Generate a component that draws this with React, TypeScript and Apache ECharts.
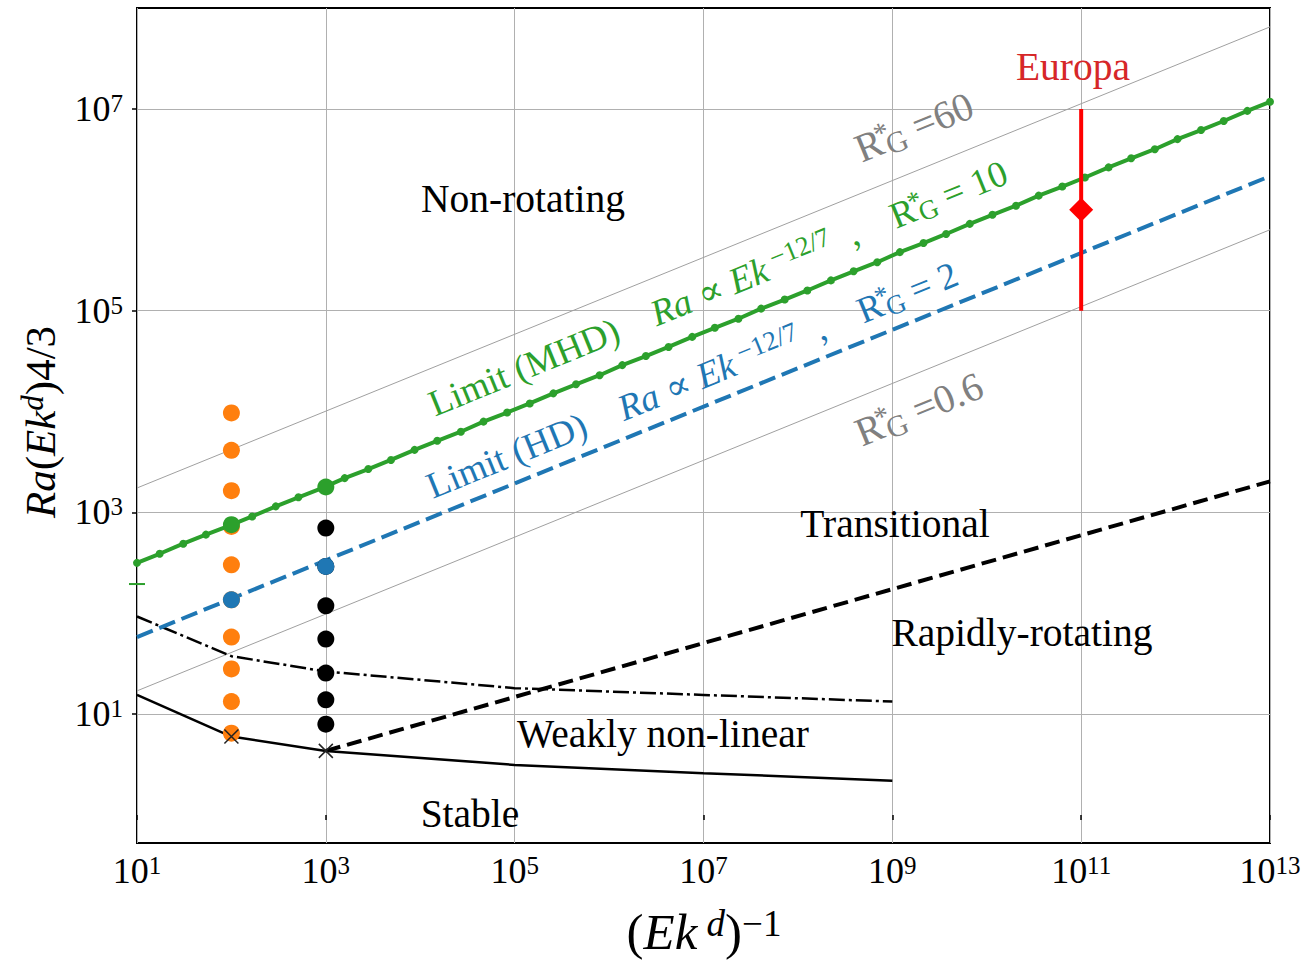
import React, { useEffect, useRef } from "react";
import * as echarts from "echarts";

const FONT = '"Liberation Serif", "DejaVu Serif", "Times New Roman", serif';

// All numbers below are log10 of the plotted quantities
// x: log10((Ek^d)^-1), y: log10(Ra (Ek^d)^(4/3))
const X_TICK_EXP = [1, 3, 5, 7, 9, 11, 13];
const Y_TICK_EXP = [1, 3, 5, 7];
const X_RANGE = [1, 13];
const Y_RANGE = [-0.277, 8.0];

// Limit (MHD), R_G* = 10 (line with small markers)
const MHD_X = [1.0, 1.24, 1.49, 1.73, 1.98, 2.22, 2.47, 2.71, 2.96, 3.2, 3.45, 3.69, 3.94, 4.18, 4.43, 4.67, 4.92, 5.16, 5.41, 5.65, 5.9, 6.14, 6.39, 6.63, 6.88, 7.12, 7.37, 7.61, 7.86, 8.1, 8.35, 8.59, 8.84, 9.08, 9.33, 9.57, 9.82, 10.06, 10.31, 10.55, 10.8, 11.04, 11.29, 11.53, 11.78, 12.02, 12.27, 12.51, 12.76, 13.0];
const MHD_Y = [2.5, 2.59, 2.69, 2.78, 2.87, 2.96, 3.06, 3.15, 3.24, 3.34, 3.43, 3.52, 3.62, 3.71, 3.8, 3.9, 3.99, 4.08, 4.18, 4.27, 4.36, 4.46, 4.55, 4.64, 4.74, 4.83, 4.92, 5.02, 5.11, 5.2, 5.3, 5.39, 5.48, 5.58, 5.67, 5.76, 5.86, 5.95, 6.04, 6.14, 6.23, 6.32, 6.42, 6.51, 6.6, 6.7, 6.79, 6.88, 6.98, 7.07];

// Limit (HD), R_G* = 2
const HD_X = [1, 13];
const HD_Y = [1.764, 6.333];

// Thin gray R_G* lines
const RG60_X = [1, 13];
const RG60_Y = [3.242, 7.813];
const RG06_X = [1, 13];
const RG06_Y = [1.231, 5.802];

// Stability boundary (solid black)
const STABLE_X = [1, 2, 3, 5, 7, 9];
const STABLE_Y = [1.191, 0.778, 0.636, 0.497, 0.415, 0.341];

// Weakly non-linear boundary (dash-dot)
const WNL_X = [1, 2, 3, 5, 7, 9];
const WNL_Y = [1.968, 1.575, 1.423, 1.258, 1.191, 1.125];

// Transitional / rapidly-rotating boundary (dashed black)
const RAPID_X = [3, 13];
const RAPID_Y = [0.636, 3.308];

// Simulations
const ORANGE_X = [2, 2, 2, 2, 2, 2, 2, 2, 2, 2];
const ORANGE_Y = [3.986, 3.615, 3.215, 2.861, 2.481, 2.134, 1.764, 1.449, 1.125, 0.812];
const BLACK_X = [3, 3, 3, 3, 3, 3, 3];
const BLACK_Y = [2.845, 2.464, 2.074, 1.744, 1.407, 1.142, 0.901];
const GREEN_PTS_X = [2, 3];
const GREEN_PTS_Y = [2.878, 3.252];
const BLUE_PTS_X = [2, 3];
const BLUE_PTS_Y = [2.134, 2.464];
const ONSET_X = [2, 3];
const ONSET_Y = [0.778, 0.636];
const EDGE_X = [1];
const EDGE_Y = [2.29];

// Europa
const EUROPA_X = [11, 11];
const EUROPA_RANGE_Y = [5.0, 7.0];
const EUROPA_PT_X = [11];
const EUROPA_PT_Y = [6.0];

const zip = (xs: number[], ys: number[]) => xs.map((x, i) => [x, ys[i]]);

const GREEN = "#2ca02c";
const BLUE = "#1f77b4";
const ORANGE = "#ff7f0e";
const GRAYT = "#808080";

const ANG = (22.13 * Math.PI) / 180;

function mathRich(color: string, fs: number) {
  const supFs = Math.round(fs * 0.72);
  return {
    n: { fontSize: fs, fontFamily: FONT, lineHeight: fs + 4, fill: color, color },
    i: { fontSize: fs, fontFamily: FONT, fontStyle: "italic", lineHeight: fs + 4, fill: color, color },
    sup: { fontSize: supFs, fontFamily: FONT, lineHeight: Math.round(fs * 0.5), verticalAlign: "top", fill: color, color },
    supi: { fontSize: supFs, fontFamily: FONT, fontStyle: "italic", lineHeight: Math.round(fs * 0.5), verticalAlign: "top", fill: color, color },
    st: { fontSize: supFs, fontFamily: FONT, lineHeight: Math.round(fs * 0.45), verticalAlign: "top", width: 0.01, padding: [0, 0, 0, 3], fill: color, color },
    sb: { fontSize: Math.round(fs * 0.74), fontFamily: FONT, lineHeight: Math.round(fs * 0.5), verticalAlign: "bottom", fill: color, color },
  };
}

function rotText(x: number, y: number, text: string, color: string, fs: number, rot: number) {
  return {
    type: "text",
    x,
    y,
    rotation: rot,
    silent: true,
    z: 100,
    style: {
      text,
      rich: mathRich(color, fs),
      fill: color,
      fontSize: fs,
      fontFamily: FONT,
      align: "center",
      verticalAlign: "middle",
      textAlign: "center",
      textVerticalAlign: "middle",
    },
  };
}

function plainText(x: number, y: number, text: string, color: string, fs: number) {
  return {
    type: "text",
    x,
    y,
    silent: true,
    z: 100,
    style: {
      text,
      fill: color,
      fontSize: fs,
      fontFamily: FONT,
      align: "center",
      verticalAlign: "middle",
      textAlign: "center",
      textVerticalAlign: "middle",
    },
  };
}

const tickRich = {
  b: { fontSize: 36, fontFamily: FONT, lineHeight: 36, color: "#000" },
  s: { fontSize: 25, fontFamily: FONT, lineHeight: 17, verticalAlign: "top", color: "#000" },
};

export default function App() {
  const ref = useRef<HTMLDivElement>(null);
  useEffect(() => {
    if (!ref.current) return;
    const chart = echarts.init(ref.current, null, { renderer: "svg" });
    const lineBase = { type: "line", symbol: "none", silent: true, animation: false };
    const dot = (xs: number[], ys: number[], color: string, z: number) => ({
      type: "scatter",
      z,
      silent: true,
      data: zip(xs, ys),
      symbol: "circle",
      symbolSize: 17,
      itemStyle: { color, opacity: 1 },
    });
    const option: any = {
      animation: false,
      backgroundColor: "#fff",
      grid: {
        left: 137,
        top: 8,
        width: 1133,
        height: 835,
        containLabel: false,
        outerBoundsMode: "none",
        show: true,
        borderColor: "#000",
        borderWidth: 2,
        backgroundColor: "transparent",
      },
      xAxis: {
        type: "value",
        min: X_RANGE[0],
        max: X_RANGE[1],
        interval: 2,
        axisLine: { show: false },
        axisTick: { show: true, inside: false, length: 5, lineStyle: { color: "#000", width: 1.5 }, customValues: X_TICK_EXP },
        axisLabel: {
          customValues: X_TICK_EXP,
          margin: 10,
          formatter: (v: number) => `{b|10}{s|${v}}`,
          rich: tickRich,
        },
        splitLine: { show: true, lineStyle: { color: "#b0b0b0", width: 1 } },
      },
      yAxis: {
        type: "value",
        min: Y_RANGE[0],
        max: Y_RANGE[1],
        axisLine: { show: false },
        axisTick: { show: true, inside: false, length: 5, lineStyle: { color: "#000", width: 1.5 }, customValues: Y_TICK_EXP },
        axisLabel: {
          customValues: Y_TICK_EXP,
          margin: 14,
          formatter: (v: number) => `{b|10}{s|${v}}`,
          rich: tickRich,
        },
        splitLine: { show: true, lineStyle: { color: "#b0b0b0", width: 1 } },
      },
      series: [
        { ...lineBase, z: 1, data: zip(RG60_X, RG60_Y), lineStyle: { color: "#a0a0a0", width: 1 } },
        { ...lineBase, z: 1, data: zip(RG06_X, RG06_Y), lineStyle: { color: "#a0a0a0", width: 1 } },
        { ...lineBase, z: 2, data: zip(STABLE_X, STABLE_Y), lineStyle: { color: "#000", width: 2.5 } },
        { ...lineBase, z: 2, data: zip(WNL_X, WNL_Y), lineStyle: { color: "#000", width: 2.5, type: [16, 4, 3, 4] } },
        { ...lineBase, z: 2, data: zip(RAPID_X, RAPID_Y), lineStyle: { color: "#000", width: 4, type: [15, 7] } },
        { ...lineBase, z: 3, data: zip(HD_X, HD_Y), lineStyle: { color: BLUE, width: 4, type: [17, 7] } },
        dot(ORANGE_X, ORANGE_Y, ORANGE, 3),
        {
          type: "line",
          z: 4,
          silent: true,
          data: zip(MHD_X, MHD_Y),
          symbol: "circle",
          symbolSize: 8,
          showSymbol: true,
          showAllSymbol: true,
          lineStyle: { color: GREEN, width: 4 },
          itemStyle: { color: GREEN, borderWidth: 0, opacity: 1 },
        },
        dot(BLACK_X, BLACK_Y, "#000", 5),
        dot(BLUE_PTS_X, BLUE_PTS_Y, BLUE, 6),
        dot(GREEN_PTS_X, GREEN_PTS_Y, GREEN, 6),
        {
          type: "scatter",
          z: 7,
          silent: true,
          data: zip(ONSET_X, ONSET_Y),
          symbol: "path://M0,0L10,10M10,0L0,10",
          symbolSize: 14,
          itemStyle: { color: "none", borderColor: "#222", borderWidth: 1.5, opacity: 1 },
        },
        {
          type: "scatter",
          z: 7,
          silent: true,
          data: zip(EDGE_X, EDGE_Y),
          symbol: "rect",
          symbolSize: [16, 2],
          itemStyle: { color: GREEN, opacity: 1 },
        },
        { ...lineBase, z: 8, data: zip(EUROPA_X, EUROPA_RANGE_Y), lineStyle: { color: "#ff0000", width: 4 } },
        {
          type: "scatter",
          z: 9,
          silent: true,
          data: zip(EUROPA_PT_X, EUROPA_PT_Y),
          symbol: "diamond",
          symbolSize: 24,
          itemStyle: { color: "#ff0000", opacity: 1 },
        },
      ],
      graphic: {
        elements: [
          plainText(523, 199, "Non-rotating", "#000", 39.5),
          plainText(895, 524, "Transitional", "#000", 39.5),
          plainText(1022, 633, "Rapidly-rotating", "#000", 39.5),
          plainText(663, 734, "Weakly non-linear", "#000", 39.5),
          plainText(470, 814, "Stable", "#000", 39.5),
          plainText(1073, 67, "Europa", "#d62728", 39.5),
          rotText(914, 127, "{n|R}{st|*}{sb|G}{n| =60}", GRAYT, 40, ANG),
          rotText(919, 409, "{n|R}{st|*}{sb|G}{n| =0.6}", GRAYT, 40, ANG),
          rotText(718, 288, "{n|Limit (MHD)    }{i|Ra}{n| ∝ }{i|Ek}{sup| −12/7}{n|  ,    R}{st|*}{sb|G}{n| = 10}", GREEN, 37, ANG),
          rotText(692, 380, "{n|Limit (HD)    }{i|Ra}{n| ∝ }{i|Ek}{sup| −12/7}{n|  ,    R}{st|*}{sb|G}{n| = 2}", BLUE, 37, ANG),
          rotText(40, 422, "{i|Ra}{n|(}{i|Ek}{supi|d}{n|)4/3}", "#000", 43, Math.PI / 2),
          rotText(704, 932, "{n|(}{i|Ek}{supi| d}{n|)}{sup|−1}", "#000", 51, 0),
        ],
      },
    };
    chart.setOption(option);
    return () => chart.dispose();
  }, []);
  return (
    <div
      ref={ref}
      style={{ position: "absolute", left: 0, top: 0, width: 1304, height: 960, background: "#fff" }}
    />
  );
}
